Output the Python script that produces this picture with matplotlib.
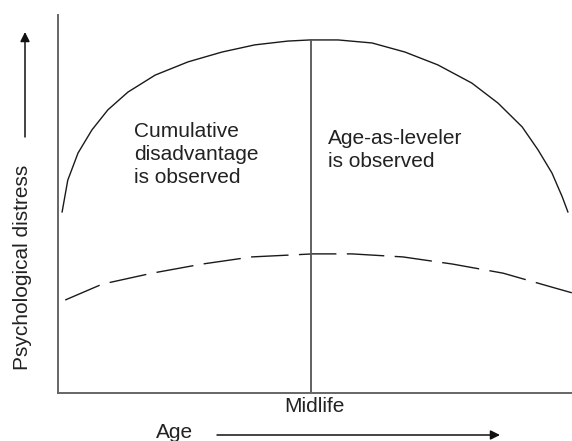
import matplotlib
matplotlib.use("Agg")
import matplotlib.pyplot as plt
from matplotlib.patches import FancyArrowPatch

# values (age and distress on a 0-100 scale)
upper_age = [0.8, 1.9, 3.9, 6.6, 9.7, 13.6, 18.9, 25.3, 31.9, 38.3, 44.7, 49.0,
             54.5, 61.1, 67.5, 73.9, 80.5, 85.6, 90.3, 93.4, 96.1, 98.1, 99.2]
upper_distress = [47.9, 56.3, 63.5, 69.6, 74.9, 79.6, 84.1, 87.6, 90.2, 92.1, 93.1, 93.4,
                  93.4, 92.6, 90.2, 86.8, 82.0, 76.7, 70.4, 64.3, 58.2, 51.9, 47.9]

lower_age = [1.4, 8.6, 18.3, 28.0, 37.7, 49.6, 57.2, 67.1, 76.8, 86.6, 96.1, 100.0]
lower_distress = [24.6, 28.8, 31.7, 34.1, 36.0, 36.8, 36.8, 36.0, 34.1, 31.7, 28.0, 26.5]

midlife_age = 49.2
midlife_top = 93.4

left_note = "Cumulative\ndisadvantage\nis observed"
right_note = "Age-as-leveler\nis observed"

plt.rcParams['font.family'] = ['Liberation Sans', 'DejaVu Sans']
W, H = 572, 441
fig = plt.figure(figsize=(W / 100, H / 100), dpi=100)
ax = fig.add_axes([58 / W, (H - 393) / H, 1 - 58 / W, (393 - 15) / H])
ax.set_xlim(0, 100)
ax.set_ylim(0, 100)

ax.plot(upper_age, upper_distress, color='#1a1a1a', lw=1.0)
ax.plot(lower_age, lower_distress, color='#1a1a1a', lw=1.0, dashes=(27, 7.5))
ax.vlines(midlife_age, 0, midlife_top, color='#555555', lw=1.3)

for side in ['top', 'right']:
    ax.spines[side].set_visible(False)
for side in ['left', 'bottom']:
    ax.spines[side].set_color('#666666')
    ax.spines[side].set_linewidth(1.4)
ax.set_xticks([])
ax.set_yticks([])

fs = 15
txt = '#222222'
fig.text(134 / W, (H - 122) / H, left_note, fontsize=fs, va='top', ha='left',
         color=txt, linespacing=1.27)
fig.text(328 / W, (H - 129) / H, right_note, fontsize=fs, va='top', ha='left',
         color=txt, linespacing=1.27)
fig.text(314 / W, (H - 406) / H, "Midlife", fontsize=fs, ha='center', va='center', color=txt)
fig.text(175 / W, (H - 432) / H, "Age", fontsize=fs, ha='center', va='center', color=txt)
fig.text(23 / W, (H - 267) / H, "Psychological distress", fontsize=fs, rotation=90,
         ha='center', va='center', color=txt)

# axis direction arrows
arrow = dict(arrowstyle='-|>', mutation_scale=14, lw=1.1, color='#111111', shrinkA=0, shrinkB=0)
fig.add_artist(FancyArrowPatch((217 / W, (H - 435) / H), (500 / W, (H - 435) / H),
                               transform=fig.transFigure, **arrow))
fig.add_artist(FancyArrowPatch((25 / W, (H - 137) / H), (25 / W, (H - 32) / H),
                               transform=fig.transFigure, **arrow))

fig.savefig("out.png", dpi=100)
